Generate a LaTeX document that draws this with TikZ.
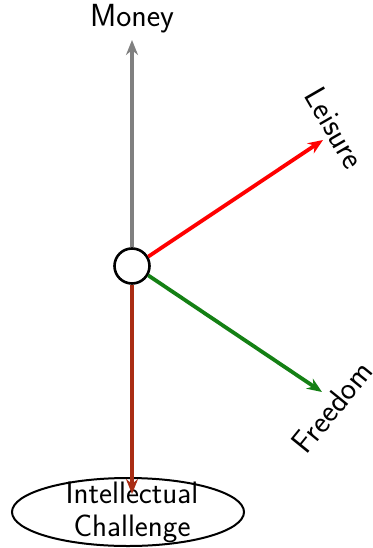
\documentclass[tikz,border=0pt]{standalone}
\usetikzlibrary{arrows.meta,shapes.geometric}
\definecolor{brn}{RGB}{170,45,20}
\definecolor{grn}{RGB}{20,128,20}
\begin{document}
\begin{tikzpicture}[x=1pt,y=-1pt,
  lbl/.style={font=\sffamily\fontsize{32}{38}\selectfont,inner sep=0pt},
  arr/.style={line width=3.8pt,-{Stealth[length=15pt,width=12pt]}}]
\useasboundingbox (0,0) rectangle (372,548);
\node[circle,draw,line width=2.6pt,minimum size=35pt,inner sep=0pt,fill=white] (c) at (132,266) {};
\node[lbl] (money) at (132,19) {Money};
\coordinate (mt) at (132,40);
\node[lbl,rotate=-60] (leis) at (335,128) {Leisure};
\coordinate (lt) at (323,140);
\node[lbl,rotate=51] (free) at (332,407) {Freedom};
\coordinate (ft) at (322,392);
\node[ellipse,draw,line width=2pt,minimum width=232pt,minimum height=68pt,inner sep=0pt] (ell) at (128,512) {};
\node[lbl,align=center,font=\sffamily\fontsize{31}{33}\selectfont] (ic) at (132,512) {Intellectual\\Challenge};
\coordinate (it) at (132,494);
\draw[arr,gray] (c.north) -- (mt);
\draw[arr,red] (c.30) -- (lt);
\draw[arr,grn] (c.-30) -- (ft);
\draw[arr,brn] (c.south) -- (it);
\end{tikzpicture}
\end{document}
